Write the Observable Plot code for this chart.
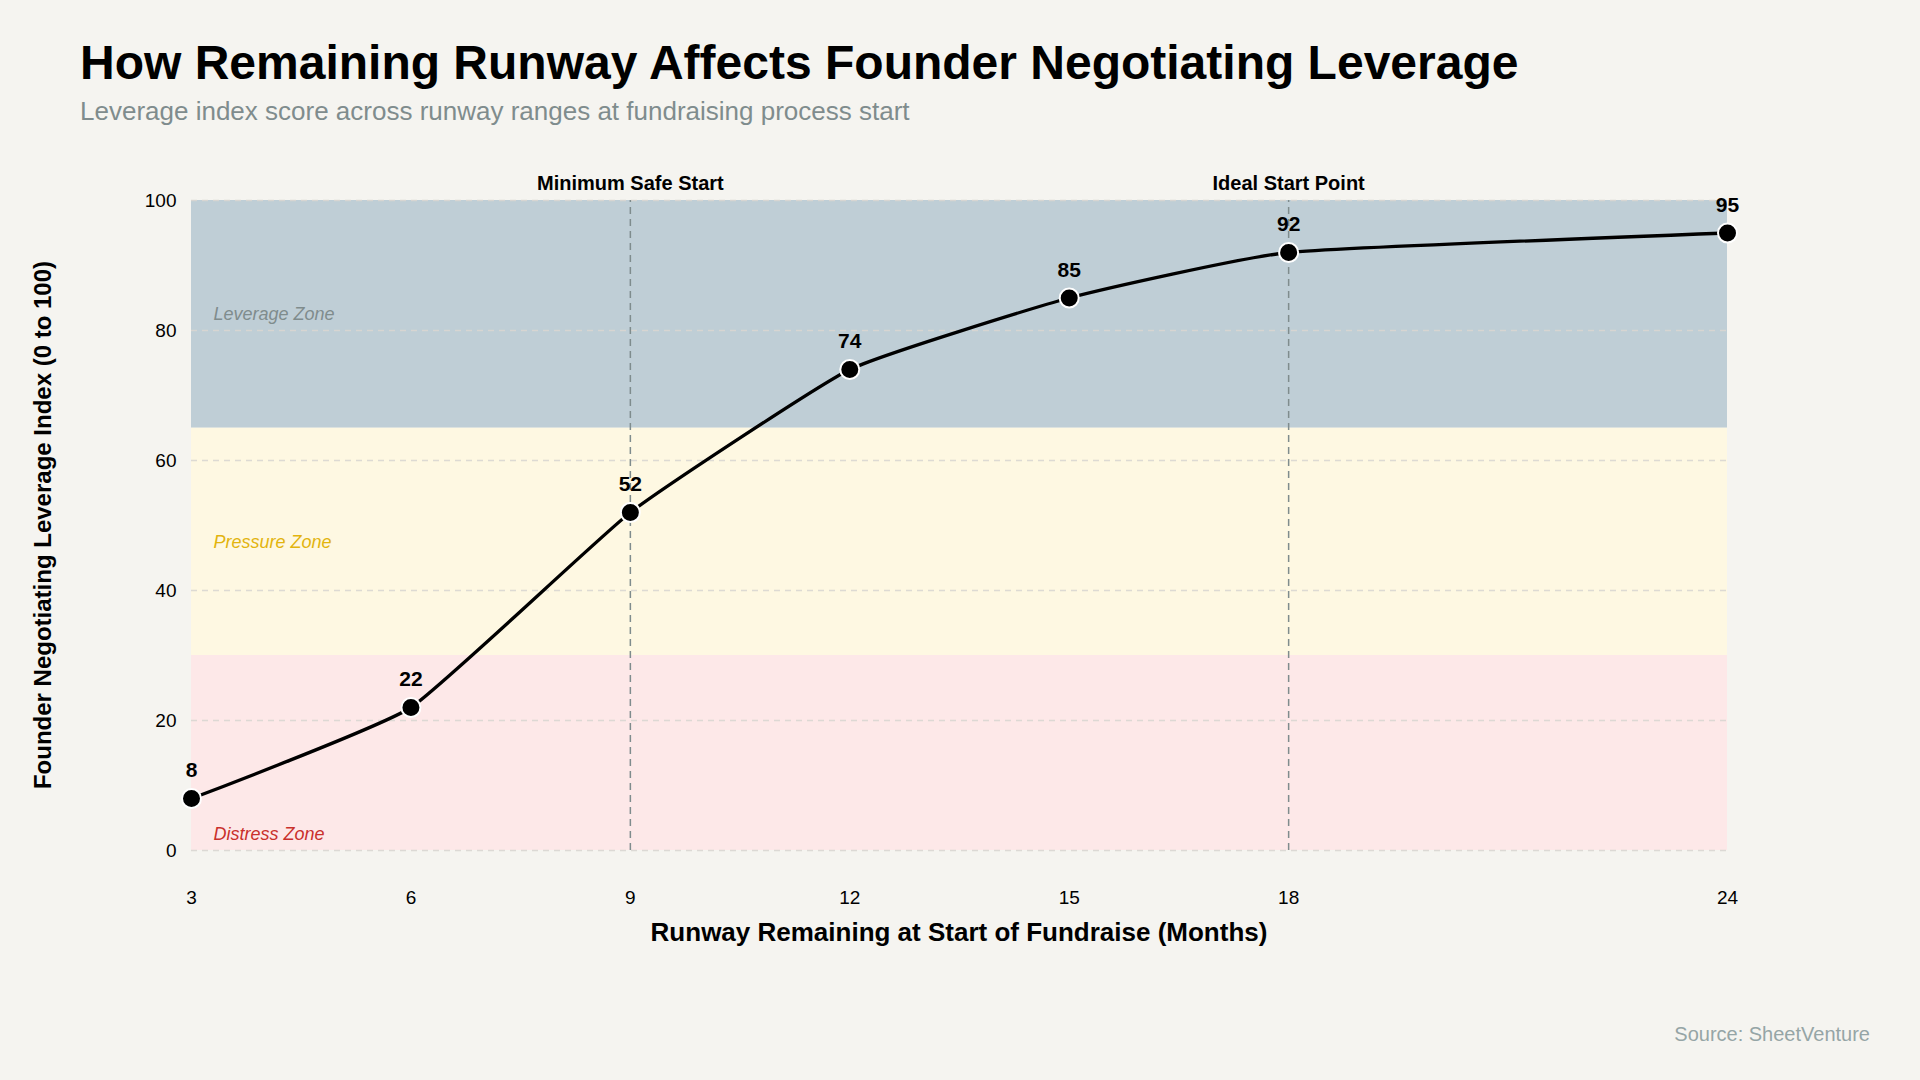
<!DOCTYPE html>
<html>
<head>
<meta charset="utf-8">
<script src="https://cdn.jsdelivr.net/npm/d3@7"></script>
<script src="https://cdn.jsdelivr.net/npm/@observablehq/plot@0.6"></script>
<style>
  html, body { margin: 0; padding: 0; background: #f5f4f0; }
  body { width: 1920px; height: 1080px; position: relative; overflow: hidden; font-family: "Liberation Sans", Arial, Helvetica, sans-serif; }
  .abs { position: absolute; line-height: 1; white-space: nowrap; }
  #title { left: 80px; top: 39px; font-size: 48px; font-weight: bold; color: #000; }
  #subtitle { left: 80px; top: 98px; font-size: 26px; color: #7f8c8d; }
  #chart { position: absolute; left: 0; top: 130px; }
  #xtitle { left: 959px; top: 919px; transform: translateX(-50%); font-size: 26px; font-weight: bold; color: #000; }
  #ytitle { left: 43px; top: 525px; transform: translate(-50%, -50%) rotate(-90deg); font-size: 24px; font-weight: bold; color: #000; }
  #source { right: 50px; top: 1024px; font-size: 20px; color: #95a5a6; }
</style>
</head>
<body>
<div id="title" class="abs">How Remaining Runway Affects Founder Negotiating Leverage</div>
<div id="subtitle" class="abs">Leverage index score across runway ranges at fundraising process start</div>
<div id="chart"></div>
<div id="xtitle" class="abs">Runway Remaining at Start of Fundraise (Months)</div>
<div id="ytitle" class="abs">Founder Negotiating Leverage Index (0 to 100)</div>
<div id="source" class="abs">Source: SheetVenture</div>
<script>
// ---- data ----
const months = [3, 6, 9, 12, 15, 18, 24];
const leverage = [8, 22, 52, 74, 85, 92, 95];
const yTicks = [0, 20, 40, 60, 80, 100];
const zoneNames = ["Distress Zone", "Pressure Zone", "Leverage Zone"];
const zoneLow = [0, 30, 65];
const zoneHigh = [30, 65, 100];
const zoneLabelValue = [2.5, 47.5, 82.5];
const markerMonths = [9, 18];
const markerLabels = ["Minimum Safe Start", "Ideal Start Point"];

// ---- styles ----
const zoneFill = {"Distress Zone": "#fde8e8", "Pressure Zone": "#fef8e2", "Leverage Zone": "#bfced6"};
const zoneText = {"Distress Zone": "#c9302c", "Pressure Zone": "#e2b40f", "Leverage Zone": "#7f8c8d"};

const points = months.map((m, i) => ({month: m, value: leverage[i]}));
const zones = zoneNames.map((n, i) => ({name: n, low: zoneLow[i], high: zoneHigh[i], labelY: zoneLabelValue[i]}));
const markers = markerMonths.map((m, i) => ({month: m, label: markerLabels[i]}));
const xMin = d3.min(months), xMax = d3.max(months);

const zoneRects = zones.map(z => Plot.rectY([z], {
  x1: () => xMin, x2: () => xMax, y1: "low", y2: "high", fill: zoneFill[z.name]
}));
const zoneLabels = zones.map(z => Plot.text([z], {
  x: () => xMin, y: "labelY", text: "name", textAnchor: "start", dx: 22,
  fill: zoneText[z.name], fontStyle: "italic", fontSize: 18
}));

const chart = Plot.plot({
  width: 1920,
  height: 830,
  marginLeft: 191,
  marginRight: 193,
  marginTop: 70,
  marginBottom: 110,
  style: {background: "transparent", fontFamily: "'Liberation Sans', Arial, sans-serif", fontSize: "19px", color: "#000"},
  x: {type: "linear", domain: [xMin, xMax], ticks: months, tickSize: 0, tickPadding: 40, label: null},
  y: {domain: [0, 100], ticks: yTicks, tickSize: 0, tickPadding: 15, label: null},
  marks: [
    ...zoneRects,
    Plot.ruleY(yTicks, {x1: () => xMin, x2: () => xMax, stroke: "#d9d6d2", strokeWidth: 1.5, strokeDasharray: "6,5", strokeOpacity: 0.9}),
    Plot.ruleX(markers, {x: "month", y1: () => 0, y2: () => 100, stroke: "#7f8c8d", strokeWidth: 1.5, strokeDasharray: "7,5"}),
    Plot.text(markers, {x: "month", y: () => 100, text: "label", dy: -17, fontWeight: "bold", fontSize: 20, fill: "#000"}),
    ...zoneLabels,
    Plot.line(points, {x: "month", y: "value", stroke: "#000", strokeWidth: 3.3, curve: "cardinal", tension: 0.6}),
    Plot.dot(points, {x: "month", y: "value", r: 9.5, fill: "#000", stroke: "#fff", strokeWidth: 2}),
    Plot.text(points, {x: "month", y: "value", text: d => String(d.value), dy: -28, fontWeight: "bold", fontSize: 21, fill: "#000"})
  ]
});
document.getElementById("chart").appendChild(chart);
</script>
</body>
</html>
